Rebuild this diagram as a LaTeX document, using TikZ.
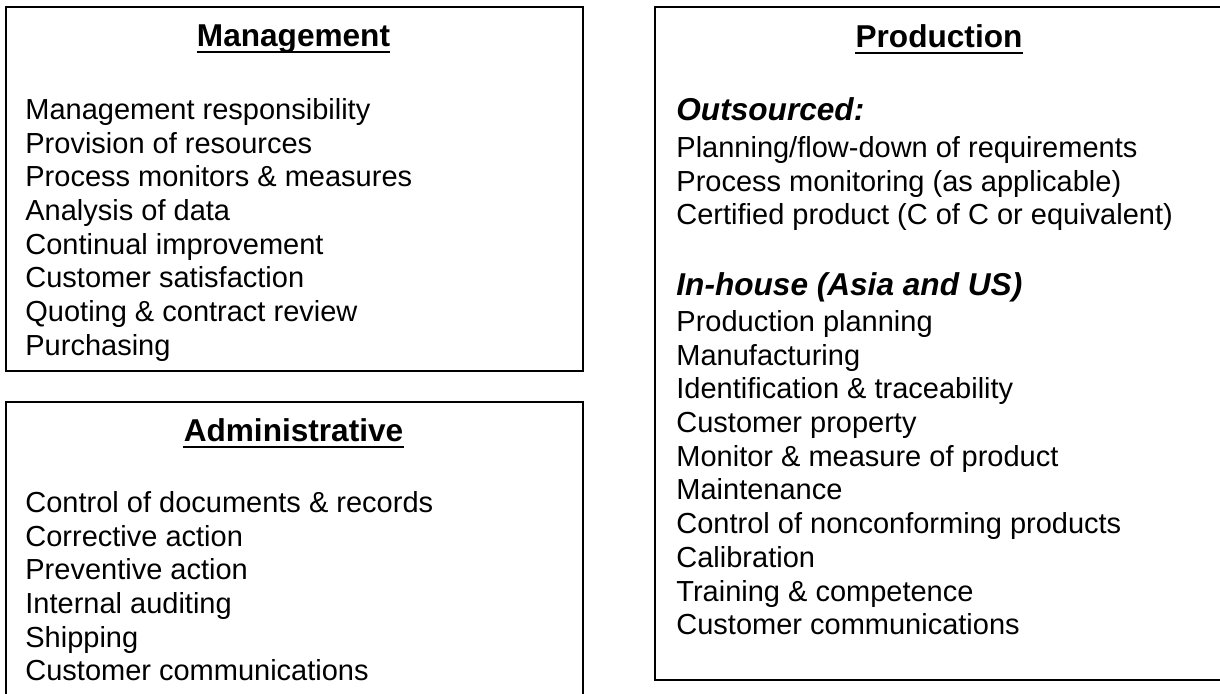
\documentclass[tikz,border=0pt]{standalone}
\usepackage{fontspec}
\setmainfont{Liberation Sans}
\usepackage{tikz}
\usetikzlibrary{positioning}

\begin{document}
\begin{tikzpicture}[x=0.5pt,y=-0.5pt,
panel/.style={draw=black,line width=1.1pt,anchor=north west,inner sep=0pt},
title/.style={font=\fontsize{15.8}{19}\selectfont\bfseries,anchor=base,inner sep=0pt},
subhead/.style={font=\fontsize{15.8}{19}\selectfont\bfseries\itshape,anchor=base west,inner sep=0pt},
items/.style={font=\fontsize{14.5}{16.85}\selectfont,align=left,anchor=north west,inner sep=0pt},
uline/.style={line width=1.2pt}
]
\useasboundingbox (0,0) rectangle (1220,693);
\clip (0,0) rectangle (1220,693);

% left column
\node[panel,minimum width=288.5pt,minimum height=182pt] (mgmt) at (5,6) {};
\node[title] (mgmttitle) at (293.5,46) {Management};
\draw[uline] ([yshift=-3pt]mgmttitle.base west) -- ([yshift=-3pt]mgmttitle.base east);
\node[items] (mgmtlist) at (25,98) {Management responsibility\\Provision of resources\\Process monitors \& measures\\Analysis of data\\Continual improvement\\Customer satisfaction\\Quoting \& contract review\\Purchasing};

\node[panel,minimum width=288.5pt,minimum height=180pt] (admin) at (5,401) {};
\node[title] (admintitle) at (293.5,441) {Administrative};
\draw[uline] ([yshift=-3pt]admintitle.base west) -- ([yshift=-3pt]admintitle.base east);
\node[items] (adminlist) at (25,491) {Control of documents \& records\\Corrective action\\Preventive action\\Internal auditing\\Shipping\\Customer communications};

% right column (runs past the right edge)
\node[panel,minimum width=300pt,minimum height=336.5pt] (prod) at (654,6) {};
\node[title] (prodtitle) at (939,47) {Production};
\draw[uline] ([yshift=-3pt]prodtitle.base west) -- ([yshift=-3pt]prodtitle.base east);
\node[subhead] (outsrc) at (676,120) {Outsourced:};
\node[items] (outlist) at (676,136) {Planning/flow-down of requirements\\Process monitoring (as applicable)\\Certified product (C of C or equivalent)};
\node[subhead] (inhouse) at (676,295) {In-house (Asia and US)};
\node[items] (inlist) at (676,310) {Production planning\\Manufacturing\\Identification \& traceability\\Customer property\\Monitor \& measure of product\\Maintenance\\Control of nonconforming products\\Calibration\\Training \& competence\\Customer communications};
\end{tikzpicture}
\end{document}
